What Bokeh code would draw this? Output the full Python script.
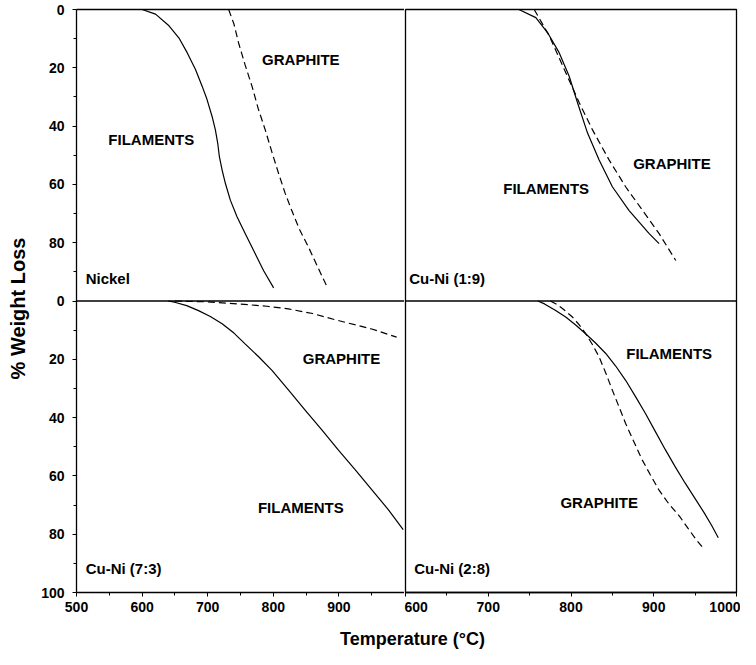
from math import pi
from bokeh.plotting import figure
from bokeh.models import Range1d, FixedTicker, Label, Span, LinearAxis
from bokeh.layouts import row, column
from bokeh.embed import file_html
from bokeh.resources import INLINE

FONT = "Liberation Sans"

# ---------------- data ----------------
# Nickel
ni_fil_T = [600, 620.5, 641, 656, 668.7, 681.4, 691.5, 699, 706.7, 711.7, 715.3, 717.8, 722, 727, 734.5, 744.7, 757.3, 770, 785.3, 800.5]
ni_fil_W = [0, 1.6, 5.6, 9.7, 14.8, 20.6, 26.3, 30.9, 36.7, 41.3, 45.9, 50.5, 55.1, 59.7, 65.4, 71.1, 76.9, 82.7, 89.6, 95.5]
ni_gra_T = [732, 740, 747, 757, 767.5, 777, 787.7, 798, 808, 818, 828, 840, 853.6, 867, 881]
ni_gra_W = [0, 5, 11.4, 19, 26.3, 34, 41.3, 49, 56.2, 63, 68.9, 75.5, 81.5, 88, 94.7]

# Cu-Ni (1:9)
c19_fil_T = [737, 757.5, 771.6, 785.7, 797.8, 807.9, 820, 834, 850, 870, 894.5, 906.5]
c19_fil_W = [0, 2.8, 7.9, 14.8, 22.9, 32, 42.4, 51.6, 60.8, 68.9, 76.9, 80.3]
c19_gra_T = [755.5, 773.7, 793.7, 810, 826, 846, 866, 886.4, 906.5, 926.6]
c19_gra_W = [0, 9, 21.7, 32, 41.3, 51.6, 60.8, 68.9, 76.9, 86.1]

# Cu-Ni (7:3)
c73_fil_T = [640, 651, 668, 686, 704, 722, 740, 757, 778, 798, 823, 848.5, 874, 899, 925, 950, 975, 998]
c73_fil_W = [0, 0.5, 1.6, 3.3, 5.3, 7.8, 11, 14.7, 19.2, 23.8, 30.5, 37.4, 44.2, 51.1, 57.9, 64.7, 71.5, 78.4]
c73_gra_T = [650, 700, 747, 790, 823, 860, 899, 950, 988]
c73_gra_W = [0, 0.3, 1, 1.8, 2.7, 4.3, 6.7, 9.6, 12.4]

# Cu-Ni (2:8)
c28_fil_T = [760, 768, 781, 794, 806, 818, 830, 842, 854, 866, 878, 890, 902, 914, 926, 938, 950, 961, 970, 978]
c28_fil_W = [0, 1, 3.2, 5.6, 8.3, 11.3, 14.5, 18, 22.3, 27.2, 32.8, 38.6, 44.8, 51, 56.9, 62.5, 67.8, 72.7, 77, 81.2]
c28_gra_T = [775, 782, 792, 802, 810, 818, 826, 834, 842, 850, 858, 866, 876, 886, 896, 906, 918, 931, 941, 951, 961]
c28_gra_W = [0, 1, 3.1, 5.6, 8.2, 11.3, 15, 19.2, 24.7, 30.6, 36.3, 42, 48.3, 54.5, 59.7, 64.7, 69.5, 73.8, 77.8, 81.8, 85.2]

# axis ticks
left_x_ticks = [500, 600, 700, 800, 900]
left_x_minor = [550, 650, 750, 850, 950]
right_x_ticks = [600, 700, 800, 900, 1000]
right_x_minor = [650, 750, 850, 950]
y_tick_labels = ["0", "20", "40", "60", "80"]
y_bottom_label = "100"

TICK_FS = "14px"
LAB_FS = "15px"
LW = 1.3


def style_axis(ax, standoff):
    ax.major_label_text_font = FONT
    ax.major_label_text_font_style = "bold"
    ax.major_label_text_font_size = TICK_FS
    ax.major_label_text_color = "black"
    ax.axis_line_color = "black"
    ax.axis_line_width = LW
    ax.major_tick_in = 0
    ax.major_tick_out = 4
    ax.minor_tick_in = 0
    ax.minor_tick_out = 3
    ax.major_tick_line_color = "black"
    ax.minor_tick_line_color = "black"
    ax.major_label_standoff = standoff


def make_column(xr, width, mbl, mbr, xt, xm, show_y):
    p = figure(width=width, height=622,
               x_range=Range1d(*xr), y_range=Range1d(200, 0),
               toolbar_location=None, output_backend="svg",
               min_border_left=mbl, min_border_right=mbr,
               min_border_top=9, min_border_bottom=30)
    # lower panel uses its own weight-loss scale on the lower half of the frame
    p.extra_y_ranges = {"bot": Range1d(100, -100)}
    p.grid.visible = False
    p.background_fill_color = "white"
    p.border_fill_color = "white"
    ax = p.xaxis[0]
    ax.ticker = FixedTicker(ticks=xt, minor_ticks=xm)
    style_axis(ax, 5)
    if show_y:
        ay = p.yaxis[0]
        ticks = [20 * i for i in range(11)]
        ay.ticker = FixedTicker(ticks=ticks, minor_ticks=[t + 10 for t in ticks[:-1]])
        labels = y_tick_labels + y_tick_labels + [y_bottom_label]
        ay.major_label_overrides = {t: lab for t, lab in zip(ticks, labels)}
        style_axis(ay, 8)
        # left column: no outline (its right edge is drawn by the right column)
        p.outline_line_color = None
        top = LinearAxis(ticker=FixedTicker(ticks=[]), major_label_text_font_size="0px",
                         major_tick_in=0, major_tick_out=0, minor_tick_in=0, minor_tick_out=0,
                         axis_line_color="black", axis_line_width=LW, major_label_standoff=0)
        p.add_layout(top, "above")
    else:
        p.yaxis.visible = False
        p.outline_line_color = "black"
        p.outline_line_width = LW
    p.add_layout(Span(location=100, dimension="width", line_color="black", line_width=1.6))
    return p


def add_curves(p, ft, fw, gt, gw, rng="default"):
    p.line(ft, fw, line_color="black", line_width=1.2, y_range_name=rng)
    p.line(gt, gw, line_color="black", line_width=1.2, line_dash="7 4", y_range_name=rng)


def add_label(p, x, y, text, align="center", rng="default"):
    p.add_layout(Label(x=x, y=y, text=text, text_align=align, text_baseline="middle",
                       y_range_name=rng,
                       text_font=FONT, text_font_style="bold", text_font_size=LAB_FS,
                       text_color="black"))


L = make_column((500, 1000), 374, 46, 0, left_x_ticks, left_x_minor, True)
R = make_column((600, 1000), 336, 1, 4, right_x_ticks, right_x_minor, False)

add_curves(L, ni_fil_T, ni_fil_W, ni_gra_T, ni_gra_W)
add_curves(R, c19_fil_T, c19_fil_W, c19_gra_T, c19_gra_W)
add_curves(L, c73_fil_T, c73_fil_W, c73_gra_T, c73_gra_W, "bot")
add_curves(R, c28_fil_T, c28_fil_W, c28_gra_T, c28_gra_W, "bot")

add_label(L, 842, 17, "GRAPHITE")
add_label(L, 614, 44.7, "FILAMENTS")
add_label(L, 514, 92.4, "Nickel", "left")
add_label(R, 922, 53, "GRAPHITE")
add_label(R, 770, 61.4, "FILAMENTS")
add_label(R, 604.5, 92.4, "Cu-Ni (1:9)", "left")
add_label(L, 904, 19.8, "GRAPHITE", rng="bot")
add_label(L, 842, 70.8, "FILAMENTS", rng="bot")
add_label(L, 514, 91.6, "Cu-Ni (7:3)", "left", rng="bot")
add_label(R, 918.6, 18, "FILAMENTS", rng="bot")
add_label(R, 834, 69, "GRAPHITE", rng="bot")
add_label(R, 610.5, 91.6, "Cu-Ni (2:8)", "left", rng="bot")


def blank(width, height):
    f = figure(width=width, height=height, toolbar_location=None, output_backend="svg",
               min_border=0, x_range=Range1d(0, 1), y_range=Range1d(0, 1))
    f.axis.visible = False
    f.grid.visible = False
    f.outline_line_color = None
    return f


xlab = blank(710, 27)
xlab.add_layout(Label(x=382, y=11, x_units="screen", y_units="screen", text="Temperature (°C)",
                      text_align="center", text_baseline="middle", text_font=FONT,
                      text_font_style="bold", text_font_size="18px", text_color="black"))

ylab = blank(30, 649)
ylab.add_layout(Label(x=17, y=649 - 308, x_units="screen", y_units="screen", text="% Weight Loss",
                      angle=pi / 2, text_align="center", text_baseline="middle", text_font=FONT,
                      text_font_style="bold", text_font_size="20px", text_color="black"))

layout = row(ylab, column(row(L, R), xlab))

open("out.html", "w").write(file_html(layout, INLINE))
